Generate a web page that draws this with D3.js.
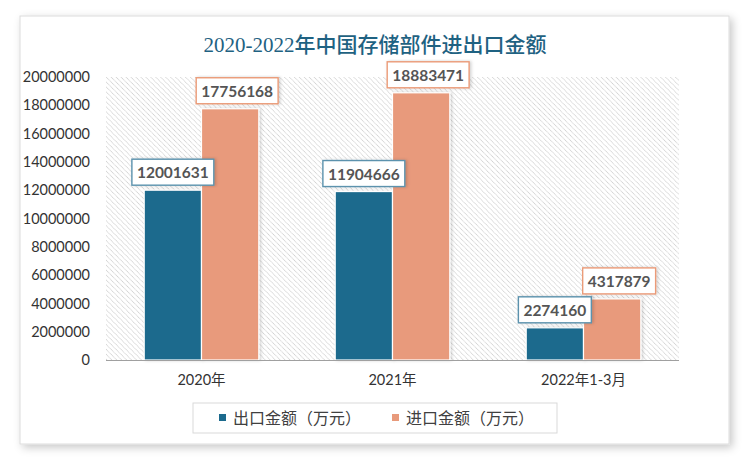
<!DOCTYPE html>
<html><head><meta charset="utf-8">
<script src="https://cdn.jsdelivr.net/npm/d3@7/dist/d3.min.js"></script>
<style>
body{margin:0;background:#fff;}
svg{display:block;}
</style></head>
<body>
<svg id="chart" width="750" height="461"></svg>
<script>
const title = "2020-2022年中国存储部件进出口金额";
const categories = ["2020年", "2021年", "2022年1-3月"];
const exportValues = [12001631, 11904666, 2274160];
const importValues = [17756168, 18883471, 4317879];
const seriesNames = ["出口金额（万元）", "进口金额（万元）"];
const yTicks = [0, 2000000, 4000000, 6000000, 8000000, 10000000, 12000000, 14000000, 16000000, 18000000, 20000000];

const colors = ["#1b6a8d", "#e89a7b"];
const labelStroke = ["#5b92ad", "#eb9b78"];
const svg = d3.select("#chart");
const defs = svg.append("defs");

const f = defs.append("filter").attr("id","shadow").attr("x","-5%").attr("y","-5%").attr("width","110%").attr("height","115%");
f.append("feDropShadow").attr("dx",3).attr("dy",3).attr("stdDeviation",4).attr("flood-color","#000").attr("flood-opacity",0.22);
const f2 = defs.append("filter").attr("id","barshadow").attr("x","-20%").attr("y","-10%").attr("width","140%").attr("height","120%");
f2.append("feDropShadow").attr("dx",1.5).attr("dy",0).attr("stdDeviation",1.5).attr("flood-color","#000").attr("flood-opacity",0.18);

const pat = defs.append("pattern").attr("id","hatch").attr("patternUnits","userSpaceOnUse")
  .attr("width",3.5).attr("height",3.5).attr("patternTransform","rotate(45)");
pat.append("rect").attr("width",3.5).attr("height",3.5).attr("fill","#fff");
pat.append("line").attr("x1",0).attr("y1",0).attr("x2",3.5).attr("y2",0)
  .attr("stroke","#c4c4c4").attr("stroke-width",1.5).attr("stroke-dasharray","1.2,0.55");

// outer frame
svg.append("rect").attr("x",20).attr("y",16).attr("width",709).attr("height",428)
  .attr("fill","#fff").attr("stroke","#dcdcdc").attr("stroke-width",1).attr("filter","url(#shadow)");

const plotL = 106, plotR = 679, plotT = 77, plotB = 360;
const x0 = d3.scaleBand().domain(categories).range([plotL, plotR]).paddingInner(0.4).paddingOuter(0.2);
const x1 = d3.scaleBand().domain([0,1]).range([0, x0.bandwidth()]).padding(0);
const y = d3.scaleLinear().domain([0, 20000000]).range([plotB, plotT]);

svg.append("rect").attr("x",plotL).attr("y",plotT).attr("width",plotR-plotL).attr("height",plotB-plotT)
  .attr("fill","url(#hatch)");

// title
svg.append("text").attr("x",375).attr("y",52).attr("text-anchor","middle")
  .attr("font-family","'Liberation Serif', 'Noto Sans CJK SC', serif").attr("font-weight","500")
  .attr("font-size",21).attr("fill","#1f6282").text(title);

// y axis
const yAxis = d3.axisLeft(y).tickValues(yTicks).tickFormat(d3.format("d")).tickSize(0).tickPadding(0);
const yg = svg.append("g").attr("transform",`translate(90,0)`).call(yAxis);
yg.select(".domain").remove();
yg.selectAll("text").attr("font-family","Lato, 'Liberation Sans', sans-serif").attr("font-size",14.5).attr("fill","#333");

// x axis
const xAxis = d3.axisBottom(x0).tickSize(0).tickPadding(15);
const xg = svg.append("g").attr("transform",`translate(0,${plotB})`).call(xAxis);
xg.select(".domain").remove();
xg.selectAll("text").attr("font-family","Lato, 'Noto Sans CJK SC', sans-serif").attr("font-size",14.5).attr("fill","#333");

const data = categories.map((c,i)=>({cat:c, vals:[exportValues[i], importValues[i]]}));

const groups = svg.append("g").selectAll("g").data(data).join("g")
  .attr("transform", d=>`translate(${x0(d.cat)},0)`);
groups.selectAll("rect").data(d=>d.vals.map((v,k)=>({v,k}))).join("rect")
  .attr("x", d=>x1(d.k)).attr("y", d=>y(d.v))
  .attr("width", x1.bandwidth()).attr("height", d=>plotB - y(d.v))
  .attr("fill", d=>colors[d.k]).attr("stroke","#fff").attr("stroke-width",1.2)
  .attr("filter","url(#barshadow)");

svg.append("line").attr("x1",plotL).attr("x2",plotR).attr("y1",plotB+0.5).attr("y2",plotB+0.5)
  .attr("stroke","#a0a0a0").attr("stroke-width",1.2);

// labels
const labelDx = [0, 7];
groups.each(function(d){
  const g = d3.select(this);
  d.vals.forEach((v,k)=>{
    const cx = x1(k) + x1.bandwidth()/2 + labelDx[k];
    const lg = g.append("g");
    const t = lg.append("text").attr("x",cx).attr("y",y(v)-12).attr("text-anchor","middle")
      .attr("font-family","Lato, 'Liberation Sans', sans-serif").attr("font-weight","bold")
      .attr("font-size",15.5).attr("fill","#555").text(v);
    const w = t.node().getComputedTextLength() + 10;
    lg.insert("rect","text").attr("x",cx-w/2).attr("y",y(v)-31).attr("width",w).attr("height",26)
      .attr("fill","#fff").attr("stroke",labelStroke[k]).attr("stroke-width",1.4)
      .attr("filter","url(#barshadow)");
  });
});

// legend
svg.append("rect").attr("x",193).attr("y",403).attr("width",364).attr("height",30)
  .attr("fill","#fff").attr("stroke","#d9d9d9").attr("stroke-width",1);
const legX = [219, 392];
seriesNames.forEach((n,k)=>{
  svg.append("rect").attr("x",legX[k]).attr("y",414).attr("width",7).attr("height",7).attr("fill",colors[k]);
  svg.append("text").attr("x",legX[k]+14).attr("y",424)
    .attr("font-family","'Noto Sans CJK SC', sans-serif").attr("font-size",16).attr("fill","#404040").text(n);
});
</script>
</body></html>
